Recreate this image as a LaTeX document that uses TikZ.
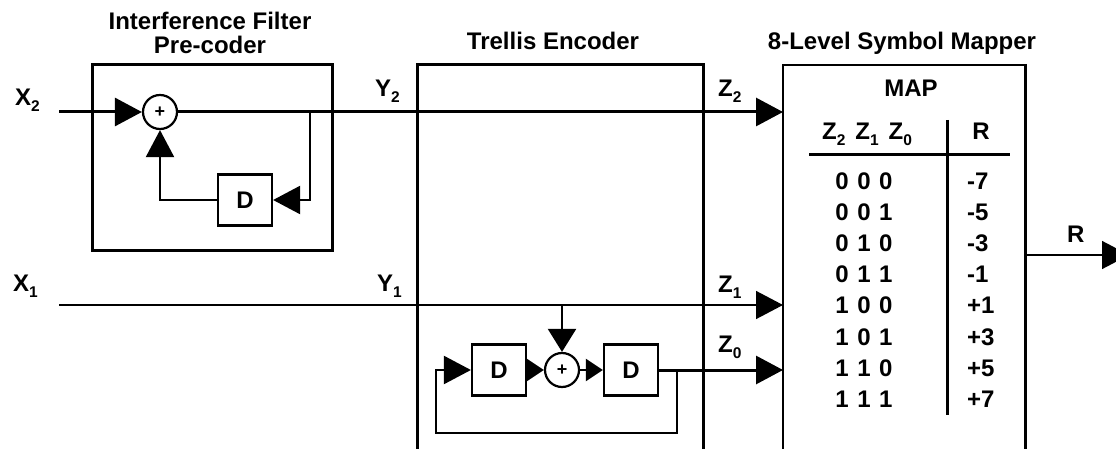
\documentclass[tikz,border=0pt]{standalone}
\usepackage{fontspec}
\setmainfont{Liberation Sans}
\usetikzlibrary{arrows.meta}
\newcommand\lowsub[1]{\raisebox{-6pt}{\fontsize{15.5}{15.5}\selectfont #1}}
\newcommand\trip[3]{#1\hspace{8.5pt}#2\hspace{8.5pt}#3}
\begin{document}
\begin{tikzpicture}[x=1pt,y=-1pt,
 lbl/.style={font=\fontsize{24}{25}\selectfont\bfseries, anchor=base, inner sep=0pt},
 lblw/.style={lbl, anchor=base west},
 thickline/.style={line width=3pt},
 thinline/.style={line width=1.5pt},
 midline/.style={line width=2.2pt},
 bigtip/.style={-{Triangle[length=27pt,width=28pt]}},
 smalltip/.style={-{Triangle[length=17pt,width=22pt]}},
 downtip/.style={-{Triangle[length=23pt,width=28pt]}},
 dbox/.style={draw, line width=2.2pt, minimum width=54pt, minimum height=51pt, inner sep=0pt, font=\fontsize{24}{25}\selectfont\bfseries},
 adder/.style={circle, draw, line width=2.2pt, minimum size=34pt, inner sep=0pt, font=\fontsize{18}{18}\selectfont\bfseries}]
\useasboundingbox (0,0) rectangle (1116,449);

% titles
\node[lbl] (t1a) at (210,30) {Interference Filter};
\node[lbl] (t1b) at (210,54) {Pre-coder};
\node[lbl] (t2) at (553,50) {Trellis Encoder};
\node[lbl] (t3) at (902,50) {8-Level Symbol Mapper};

% pre-coder
\node[draw, line width=3pt, minimum width=240pt, minimum height=185pt, inner sep=0pt] (pre) at (212,157.5) {};
\node[adder] (a1) at (160,112) {+};
\node[dbox] (d1) at (245,200) {D};
\coordinate (x2in) at (59,112);
\coordinate (y2end) at (783,112);
\coordinate (tap1) at (310,112);
\draw[thickline, bigtip] (x2in) -- (a1);
\draw[thickline, bigtip] (a1) -- (y2end);
\draw[midline, bigtip] (tap1) |- (d1.east);
\draw[midline, bigtip] (d1.west) -| (a1.south);

% trellis encoder box (open at bottom)
\coordinate (teBL) at (417,449);
\coordinate (teTL) at (417,65);
\coordinate (teTR) at (703,65);
\coordinate (teBR) at (703,449);
\draw[thickline] (teBL) -- (teTL) -- (teTR) -- (teBR);

% mapper box (open at bottom)
\coordinate (mBL) at (783,449);
\coordinate (mTL) at (783,65);
\coordinate (mTR) at (1025,65);
\coordinate (mBR) at (1025,449);
\draw[midline] (mBL) -- (mTL) -- (mTR);
\draw[thickline] (1025,64) -- (mBR);

% X1 / Z1 path
\coordinate (x1in) at (59,305);
\coordinate (z1end) at (783,305);
\coordinate (tap2) at (562,305);
\draw[thinline, bigtip] (x1in) -- (z1end);

% trellis internals
\node[dbox] (dA) at (499,370) {D};
\node[adder] (a2) at (562,370) {+};
\node[dbox] (dB) at (631,370) {D};
\coordinate (z0end) at (783,370);
\coordinate (tap3) at (677,370);
\coordinate (fb) at (436,433);
\draw[midline, downtip] (tap2) -- (a2.north);
\draw[midline, smalltip] (dA.east) -- (a2.west);
\draw[midline, smalltip] (a2.east) -- (dB.west);
\draw[thickline, bigtip] (dB.east) -- (z0end);
\draw[midline, bigtip] (tap3) |- (fb) |- (dA.west);

% output
\coordinate (rstart) at (1025,255);
\coordinate (rend) at (1129,255);
\draw[thinline, bigtip] (rstart) -- (rend);

% signal labels
\node[lblw] (lx2) at (15,106) {X\lowsub{2}};
\node[lblw] (ly2) at (375,97) {Y\lowsub{2}};
\node[lblw] (lz2) at (718,97) {Z\lowsub{2}};
\node[lblw] (lx1) at (13,291) {X\lowsub{1}};
\node[lblw] (ly1) at (377,291) {Y\lowsub{1}};
\node[lblw] (lz1) at (718,292) {Z\lowsub{1}};
\node[lblw] (lz0) at (718,352) {Z\lowsub{0}};
\node[lblw] (lr) at (1067,242) {R};

% map table
\node[lbl] (map) at (911,97) {MAP};
\node[lbl] (hz) at (867,140) {Z\lowsub{2}\hspace{10pt}Z\lowsub{1}\hspace{10pt}Z\lowsub{0}};
\node[lbl] (hr) at (981,140) {R};
\coordinate (hl1) at (809,155);
\coordinate (hl2) at (1010,155);
\coordinate (vl1) at (947,120);
\coordinate (vl2) at (947,415);
\draw[thickline] (hl1) -- (hl2);
\draw[thickline] (vl1) -- (vl2);
\foreach \a/\b/\c/\v [count=\i from 0] in {0/0/0/-7,0/0/1/-5,0/1/0/-3,0/1/1/-1,1/0/0/+1,1/0/1/+3,1/1/0/+5,1/1/1/+7}{
  \node[lbl] (c\i) at (864,189.5+31.1*\i) {\trip{\a}{\b}{\c}};
  \node[lblw] (v\i) at (967,189.5+31.1*\i) {\v};
}
\end{tikzpicture}
\end{document}
